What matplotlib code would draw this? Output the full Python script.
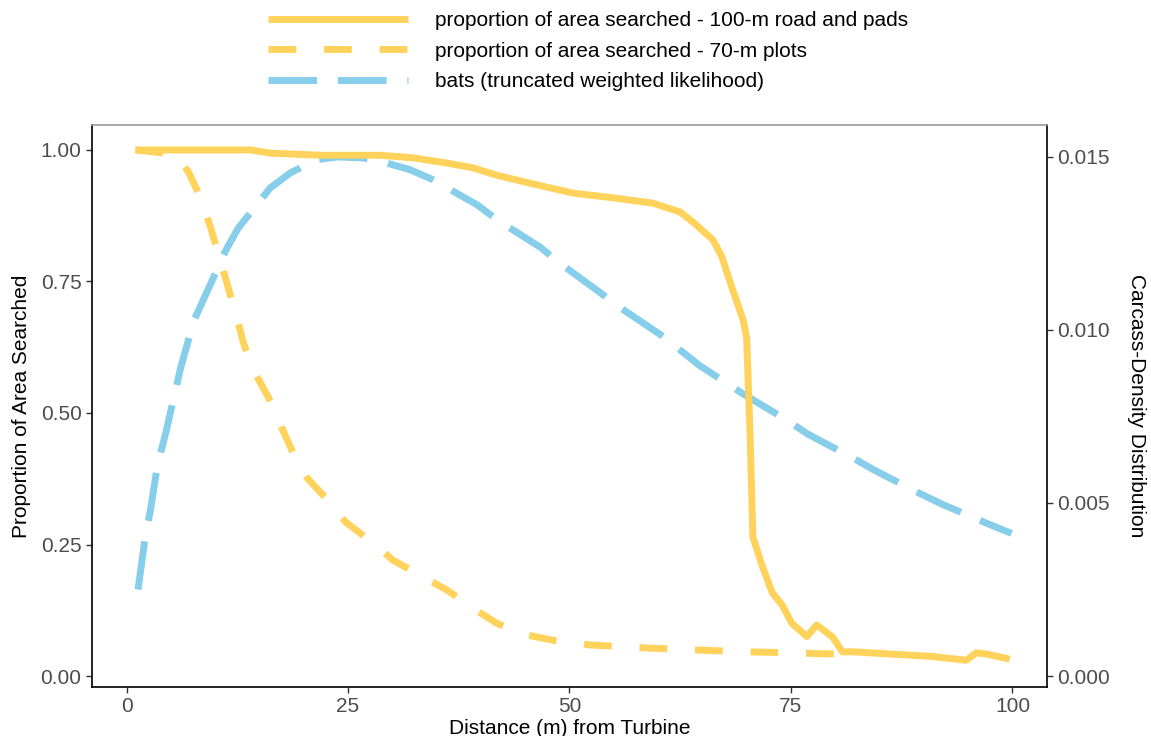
import matplotlib
matplotlib.use('Agg')
import matplotlib.pyplot as plt

# proportion of area searched - 100-m road and pads
road_x = [1, 5, 10, 14, 16.2, 21.9, 25, 28.6, 32.4, 36.2, 39.1, 41.8, 45.5, 50.4,
          54.9, 59.4, 62.5, 64.0, 66.2, 67.2, 68.3, 69.6, 70.0, 70.4, 70.7, 71.8,
          72.9, 74.0, 75.1, 76.8, 77.9, 79.7, 80.8, 82, 85, 88, 91, 94.8, 95.9, 97,
          99.7]
road_y = [1.0, 1.0, 1.0, 1.0, 0.994, 0.990, 0.990, 0.990, 0.985, 0.975, 0.966,
          0.952, 0.937, 0.918, 0.909, 0.899, 0.882, 0.862, 0.829, 0.797, 0.74,
          0.677, 0.643, 0.45, 0.264, 0.207, 0.158, 0.135, 0.10, 0.075, 0.097,
          0.074, 0.046, 0.046, 0.043, 0.040, 0.037, 0.030, 0.044, 0.042, 0.032]

# proportion of area searched - 70-m plots
plots_x = [1, 3.8, 5.5, 7.0, 8.3, 9.5, 10.4, 11.4, 12.3, 13.2, 14.3, 16.0, 17.1,
           18.8, 20.4, 23.0, 24.7, 27.8, 30.1, 33.5, 36.2, 39.1, 41.8, 45.2, 48.1,
           52.3, 59.1, 65, 70, 75.2, 81.6]
plots_y = [1.0, 0.995, 0.99, 0.958, 0.911, 0.852, 0.80, 0.743, 0.69, 0.633,
           0.582, 0.53, 0.487, 0.424, 0.376, 0.329, 0.293, 0.253, 0.22, 0.188,
           0.163, 0.129, 0.10, 0.078, 0.068, 0.059, 0.053, 0.049, 0.046, 0.044,
           0.041]

# bats (truncated weighted likelihood) - carcass density
bats_x = [1.3, 2.1, 2.7, 3.5, 4.5, 6.1, 7.6, 8.9, 11.2, 12.6, 16.2, 18.5, 21.5,
          23.8, 26.7, 28.6, 32.0, 34.6, 39.6, 41.9, 46.7, 48.9, 53.4, 55.7, 60.4,
          64.7, 69.6, 74.5, 76.9, 82.0, 84.4, 89.5, 92.1, 97.4, 99.9]
bats_d = [0.0025, 0.0040, 0.0048, 0.0061, 0.0071, 0.0089, 0.01027, 0.0110, 0.0123,
          0.01294, 0.0141, 0.01454, 0.01492, 0.0150, 0.01497, 0.01488, 0.01463,
          0.01434, 0.01361, 0.01317, 0.01239, 0.01193, 0.01109, 0.01065, 0.00984,
          0.00897, 0.00815, 0.0074, 0.00699, 0.0063, 0.00595, 0.00528, 0.00496,
          0.00438, 0.00412]

k = 0.0152  # density = proportion * k
yellow = '#FFD35B'
blue = '#87CEEB'
lw = 5
fs = 15

plt.rcParams['font.family'] = ['Liberation Sans', 'DejaVu Sans']
plt.rcParams['font.size'] = fs

fig = plt.figure(figsize=(11.51, 7.36), dpi=100)
ax = fig.add_axes([92 / 1151, 1 - 687 / 736, (1047 - 92) / 1151, (687 - 125) / 736])

l2, = ax.plot(plots_x, plots_y, color=yellow, lw=lw, dashes=(4, 4),
              label='proportion of area searched - 70-m plots', zorder=2)
l3, = ax.plot(bats_x, [d / k for d in bats_d], color=blue, lw=lw, dashes=(7, 3),
              label='bats (truncated weighted likelihood)', zorder=3)
l1, = ax.plot(road_x, road_y, color=yellow, lw=lw, solid_capstyle='butt',
              solid_joinstyle='round',
              label='proportion of area searched - 100-m road and pads', zorder=4)

ax.set_xlim(-3.9, 103.9)
ax.set_ylim(-0.0209, 1.0475)
ax.set_xticks([0, 25, 50, 75, 100])
ax.set_yticks([0, 0.25, 0.5, 0.75, 1.0])
ax.set_yticklabels(['0.00', '0.25', '0.50', '0.75', '1.00'])
ax.set_xlabel('Distance (m) from Turbine', color='black', labelpad=2)
ax.set_ylabel('Proportion of Area Searched', color='black', labelpad=7)
ax.tick_params(colors='#333333', labelcolor='#4D4D4D', length=4, width=1)

sec = ax.secondary_yaxis('right', functions=(lambda y: y * k, lambda y: y / k))
sec.set_yticks([0, 0.005, 0.010, 0.015])
sec.set_yticklabels(['0.000', '0.005', '0.010', '0.015'])
sec.tick_params(colors='#333333', labelcolor='#4D4D4D', length=4, width=1)
sec.set_ylabel('Carcass-Density Distribution', rotation=270, labelpad=26, color='black')
sec.spines['right'].set_color('black')
sec.spines['right'].set_linewidth(1.2)

for s in ['left', 'bottom']:
    ax.spines[s].set_color('black')
    ax.spines[s].set_linewidth(1.2)
ax.spines['right'].set_visible(False)
ax.spines['top'].set_color('#999999')
ax.spines['top'].set_linewidth(1.2)

fig.legend(handles=[l1, l2, l3], loc='center', bbox_to_anchor=(588 / 1151, 1 - 51 / 736),
           frameon=False, handlelength=6.7, handletextpad=1.3, labelspacing=0.55,
           borderpad=0, fontsize=fs)

plt.savefig('out.png', dpi=100)
